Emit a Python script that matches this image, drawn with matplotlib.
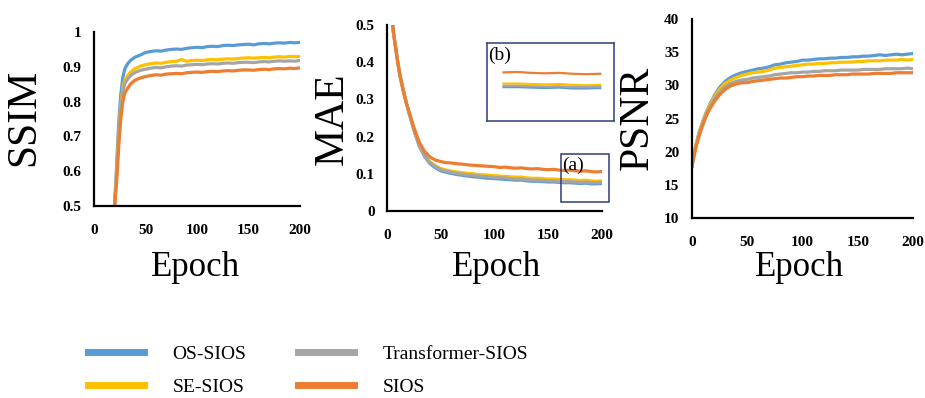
import numpy as np
import matplotlib
matplotlib.use("Agg")
import matplotlib.pyplot as plt
from matplotlib.patches import Rectangle

plt.rcParams['font.family'] = ['Liberation Serif', 'DejaVu Serif']

names = ['OS-SIOS', 'SE-SIOS', 'Transformer-SIOS', 'SIOS']
colors = ['#5B9BD5', '#FFC000', '#A5A5A5', '#ED7D31']

# shared plateau epochs
tail_ep = list(range(50, 201, 5))

# ---- SSIM ----
ssim_ep = [20, 22, 24, 26, 28, 30, 33, 36, 40, 45] + tail_ep
ssim_os = [0.50, 0.62, 0.74, 0.82, 0.87, 0.895, 0.910, 0.920, 0.928, 0.934,
           0.941, 0.944, 0.946, 0.945, 0.948, 0.950, 0.951, 0.950, 0.953, 0.955, 0.956,
           0.955, 0.958, 0.959, 0.958, 0.961, 0.962, 0.961, 0.963, 0.964, 0.965,
           0.963, 0.966, 0.967, 0.966, 0.968, 0.969, 0.968, 0.970, 0.969, 0.970]
ssim_se = [0.50, 0.60, 0.71, 0.79, 0.84, 0.862, 0.876, 0.886, 0.895, 0.902,
           0.906, 0.909, 0.911, 0.910, 0.913, 0.915, 0.916, 0.921, 0.916, 0.918, 0.919,
           0.918, 0.920, 0.921, 0.920, 0.922, 0.923, 0.922, 0.924, 0.925, 0.926,
           0.925, 0.926, 0.927, 0.926, 0.928, 0.929, 0.928, 0.930, 0.929, 0.930]
ssim_tr = [0.50, 0.59, 0.70, 0.78, 0.83, 0.852, 0.866, 0.876, 0.884, 0.890,
           0.893, 0.896, 0.898, 0.897, 0.900, 0.902, 0.903, 0.902, 0.905, 0.906, 0.907,
           0.906, 0.908, 0.909, 0.908, 0.910, 0.911, 0.910, 0.912, 0.913, 0.913,
           0.912, 0.914, 0.915, 0.914, 0.916, 0.917, 0.916, 0.917, 0.916, 0.918]
ssim_sios = [0.50, 0.57, 0.67, 0.75, 0.80, 0.825, 0.840, 0.852, 0.862, 0.868,
             0.872, 0.875, 0.877, 0.876, 0.879, 0.880, 0.881, 0.880, 0.883, 0.884, 0.885,
             0.884, 0.886, 0.887, 0.886, 0.888, 0.889, 0.888, 0.890, 0.891, 0.891,
             0.890, 0.892, 0.893, 0.892, 0.894, 0.895, 0.894, 0.896, 0.895, 0.897]

# ---- MAE ----
mae_ep = [4, 6, 8, 10, 12, 15, 18, 21, 25, 30, 35, 40, 45] + tail_ep
mae_os = [0.53, 0.48, 0.44, 0.40, 0.365, 0.326, 0.29, 0.259, 0.218, 0.175, 0.146, 0.127, 0.116,
          0.108, 0.104, 0.101, 0.098, 0.096, 0.094, 0.092, 0.091, 0.089, 0.088, 0.087,
          0.086, 0.085, 0.084, 0.083, 0.083, 0.081, 0.080, 0.080, 0.079, 0.078,
          0.078, 0.077, 0.076, 0.076, 0.075, 0.074, 0.075, 0.073, 0.073, 0.074]
mae_se = [0.53, 0.48, 0.44, 0.40, 0.366, 0.327, 0.29, 0.260, 0.220, 0.178, 0.150, 0.132, 0.122,
          0.114, 0.110, 0.107, 0.105, 0.103, 0.101, 0.100, 0.098, 0.097, 0.096, 0.095,
          0.094, 0.093, 0.092, 0.091, 0.091, 0.089, 0.088, 0.088, 0.087, 0.086,
          0.086, 0.085, 0.084, 0.084, 0.083, 0.082, 0.083, 0.081, 0.080, 0.081]
mae_tr = [0.53, 0.48, 0.44, 0.40, 0.365, 0.326, 0.29, 0.259, 0.219, 0.176, 0.148, 0.130, 0.119,
          0.111, 0.107, 0.104, 0.101, 0.099, 0.097, 0.096, 0.094, 0.093, 0.092, 0.090,
          0.089, 0.089, 0.087, 0.086, 0.086, 0.084, 0.083, 0.083, 0.082, 0.081,
          0.081, 0.080, 0.079, 0.079, 0.078, 0.077, 0.078, 0.076, 0.076, 0.077]
mae_sios = [0.53, 0.48, 0.44, 0.40, 0.365, 0.325, 0.29, 0.262, 0.225, 0.185, 0.160, 0.145, 0.137,
            0.133, 0.130, 0.129, 0.127, 0.126, 0.124, 0.123, 0.122, 0.121, 0.120, 0.119,
            0.117, 0.118, 0.116, 0.115, 0.116, 0.114, 0.113, 0.114, 0.112, 0.111,
            0.112, 0.110, 0.109, 0.110, 0.108, 0.107, 0.108, 0.106, 0.105, 0.106]

# ---- PSNR ----
psnr_ep = [0, 2, 4, 6, 8, 10, 13, 16, 20, 25, 30, 35, 40, 45] + tail_ep
psnr_os = [17.8, 19.8, 21.3, 22.6, 23.7, 24.7, 26.0, 27.1, 28.4, 29.7, 30.6, 31.2, 31.6, 31.9,
           32.1, 32.3, 32.5, 32.6, 32.8, 33.1, 33.2, 33.4, 33.5, 33.6, 33.8,
           33.8, 33.9, 34.0, 34.0, 34.1, 34.1, 34.2, 34.2, 34.3, 34.3,
           34.4, 34.4, 34.5, 34.6, 34.5, 34.6, 34.7, 34.6, 34.7, 34.8]
psnr_se = [17.8, 19.7, 21.2, 22.5, 23.6, 24.6, 25.9, 27.0, 28.2, 29.4, 30.3, 30.8, 31.2, 31.5,
           31.7, 31.9, 32.0, 32.1, 32.3, 32.6, 32.7, 32.8, 32.9, 33.0, 33.1,
           33.2, 33.2, 33.3, 33.3, 33.4, 33.4, 33.5, 33.5, 33.5, 33.6,
           33.6, 33.7, 33.7, 33.7, 33.8, 33.8, 33.8, 33.9, 33.8, 33.9]
psnr_tr = [17.8, 19.6, 21.1, 22.3, 23.4, 24.4, 25.7, 26.7, 27.9, 29.0, 29.8, 30.3, 30.6, 30.8,
           30.9, 31.1, 31.2, 31.3, 31.4, 31.6, 31.7, 31.8, 31.9, 31.9, 32.0,
           32.0, 32.1, 32.1, 32.2, 32.2, 32.2, 32.3, 32.3, 32.3, 32.3,
           32.4, 32.4, 32.4, 32.4, 32.5, 32.5, 32.5, 32.5, 32.6, 32.5]
psnr_sios = [17.8, 19.5, 20.9, 22.1, 23.2, 24.1, 25.4, 26.4, 27.5, 28.6, 29.4, 29.9, 30.2, 30.4,
             30.4, 30.6, 30.7, 30.8, 30.9, 31.0, 31.1, 31.1, 31.2, 31.3, 31.3,
             31.4, 31.4, 31.5, 31.5, 31.5, 31.6, 31.6, 31.6, 31.7, 31.7,
             31.7, 31.7, 31.8, 31.8, 31.8, 31.8, 31.9, 31.9, 31.9, 31.9]

W, H = 925, 398
fig = plt.figure(figsize=(W / 100, H / 100), dpi=100)


def px_axes(left, top, right, bottom):
    return fig.add_axes([left / W, (H - bottom) / H, (right - left) / W, (bottom - top) / H])


def style(ax, ylim, yticks, ylabels):
    ax.set_xlim(0, 200)
    ax.set_ylim(*ylim)
    ax.set_xticks([0, 50, 100, 150, 200])
    ax.set_yticks(yticks)
    ax.set_yticklabels(ylabels)
    for s in ['top', 'right']:
        ax.spines[s].set_visible(False)
    for s in ['left', 'bottom']:
        ax.spines[s].set_linewidth(1.6)
        ax.spines[s].set_color('black')
    ax.tick_params(length=0, labelsize=11)
    ax.tick_params(axis='x', pad=13)
    ax.tick_params(axis='y', pad=9)
    for lab in ax.get_xticklabels() + ax.get_yticklabels():
        lab.set_fontweight('bold')


panels = [
    (ssim_ep, [ssim_os, ssim_se, ssim_tr, ssim_sios]),
    (mae_ep, [mae_os, mae_se, mae_tr, mae_sios]),
    (psnr_ep, [psnr_os, psnr_se, psnr_tr, psnr_sios]),
]

ax1 = px_axes(94, 32, 300, 206)
ax2 = px_axes(387, 25, 602, 211)
ax3 = px_axes(692, 19, 913, 218)
axes = [ax1, ax2, ax3]

for ax, (ep, series) in zip(axes, panels):
    for vals, c, n in zip(series, colors, names):
        ax.plot(ep, vals, color=c, lw=2.3, label=n)

style(ax1, (0.5, 1.0), [0.5, 0.6, 0.7, 0.8, 0.9, 1.0], ['0.5', '0.6', '0.7', '0.8', '0.9', '1'])
style(ax2, (0, 0.5), [0, 0.1, 0.2, 0.3, 0.4, 0.5], ['0', '0.1', '0.2', '0.3', '0.4', '0.5'])
style(ax3, (10, 40), [10, 15, 20, 25, 30, 35, 40], ['10', '15', '20', '25', '30', '35', '40'])

# axis titles
for x, y, t in [(24, 117, 'SSIM'), (333, 119, 'MAE'), (638, 118, 'PSNR')]:
    fig.text(x / W, 1 - y / H, t, rotation=90, ha='center', va='center', fontsize=30)
for x in [195, 497, 800]:
    fig.text(x / W, 1 - 268 / H, 'Epoch', ha='center', va='center', fontsize=25)

# zoom box (a) and inset (b) on the MAE panel
navy = '#2E3D78'
ax2.add_patch(Rectangle((161.5, 0.024), 45.3, 0.129, fill=False, edgecolor=navy,
                        lw=1.1, clip_on=False, zorder=5))
fig.text(573 / W, 1 - 165 / H, '(a)', ha='center', va='center', fontsize=14)

axin = px_axes(487, 43, 614, 121)
mask = np.array(mae_ep) >= 165
for vals, c in zip([mae_os, mae_se, mae_tr, mae_sios], colors):
    axin.plot(np.array(mae_ep)[mask], np.array(vals)[mask], color=c, lw=1.6)
axin.set_xlim(159, 205)
axin.set_ylim(0.0, 0.175)
axin.set_xticks([])
axin.set_yticks([])
for s in axin.spines.values():
    s.set_color(navy)
    s.set_linewidth(1.1)
fig.text(500 / W, 1 - 55 / H, '(b)', ha='center', va='center', fontsize=14)

handles = ax3.get_lines()
fig.legend(handles, names, ncol=2, loc='upper left', bbox_to_anchor=(88 / W, 1 - 345 / H),
           frameon=False, fontsize=14, handlelength=2.9, handletextpad=1.45,
           columnspacing=2.65, labelspacing=0.8, borderpad=0, borderaxespad=0)
for l in fig.legends[0].get_lines():
    l.set_linewidth(5)

fig.savefig('out.png', dpi=100)
